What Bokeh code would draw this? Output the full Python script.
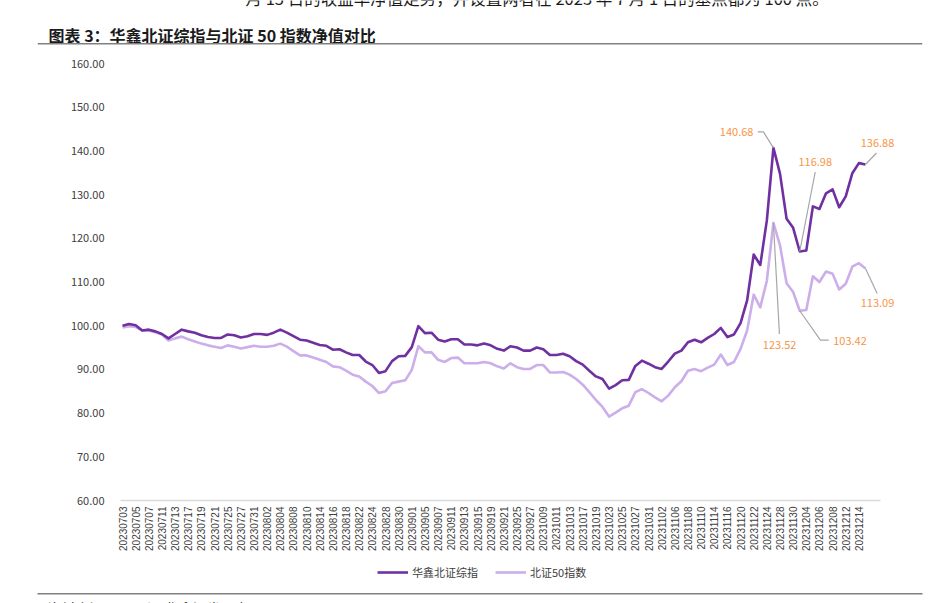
from math import pi
from bokeh.plotting import figure
from bokeh.layouts import column
from bokeh.models import (Range1d, FixedTicker, NumeralTickFormatter, Label,
                          Legend, LegendItem, BoxAnnotation)
from bokeh.core.properties import value
from bokeh.embed import file_html
from bokeh.resources import INLINE

dates = [
    "20230703", "20230704", "20230705", "20230706", "20230707", "20230710", "20230711",
    "20230712", "20230713", "20230714", "20230717", "20230718", "20230719", "20230720",
    "20230721", "20230724", "20230725", "20230726", "20230727", "20230728", "20230731",
    "20230801", "20230802", "20230803", "20230804", "20230807", "20230808", "20230809",
    "20230810", "20230811", "20230814", "20230815", "20230816", "20230817", "20230818",
    "20230821", "20230822", "20230823", "20230824", "20230825", "20230828", "20230829",
    "20230830", "20230831",
    "20230901", "20230904", "20230905", "20230906", "20230907", "20230908", "20230911",
    "20230912", "20230913", "20230914", "20230915", "20230918", "20230919", "20230920",
    "20230921", "20230922", "20230925", "20230926", "20230927", "20230928",
    "20231009", "20231010", "20231011", "20231012", "20231013", "20231016", "20231017",
    "20231018", "20231019", "20231020", "20231023", "20231024", "20231025", "20231026",
    "20231027", "20231030", "20231031",
    "20231101", "20231102", "20231103", "20231106", "20231107", "20231108", "20231109",
    "20231110", "20231113", "20231114", "20231115", "20231116", "20231117", "20231120",
    "20231121", "20231122", "20231123", "20231124", "20231127", "20231128", "20231129",
    "20231130",
    "20231201", "20231204", "20231205", "20231206", "20231207", "20231208", "20231211",
    "20231212", "20231213", "20231214", "20231215",
]

huaxin_bse = [
    100.0, 100.4, 100.1, 98.9, 99.1, 98.7, 98.1, 97.1, 98.1, 99.1,
    98.7, 98.4, 97.8, 97.4, 97.2, 97.2, 98.0, 97.8, 97.3, 97.6,
    98.1, 98.1, 97.9, 98.4, 99.1, 98.4, 97.6, 96.8, 96.6, 96.1,
    95.6, 95.4, 94.5, 94.6, 93.9, 93.3, 93.3, 91.8, 91.0, 89.2,
    89.6, 91.9, 93.0, 93.1, 95.1, 99.9, 98.3, 98.4, 96.8, 96.4,
    96.9, 96.9, 95.7, 95.7, 95.5, 95.9, 95.5, 94.7, 94.3, 95.3,
    95.0, 94.3, 94.3, 95.0, 94.6, 93.3, 93.3, 93.6, 93.0, 91.9,
    91.1, 89.7, 88.4, 87.8, 85.6, 86.4, 87.5, 87.6, 90.8, 92.0,
    91.3, 90.5, 90.1, 91.8, 93.6, 94.3, 96.2, 96.8, 96.2, 97.2,
    98.1, 99.5, 97.4, 98.0, 100.6, 105.8, 116.3, 113.9, 124.1, 140.68,
    134.8, 124.5, 122.4, 116.98, 117.2, 127.3, 126.7, 130.3, 131.2, 127.1,
    129.6, 134.9, 137.2, 136.88,
]

bse50 = [
    99.6, 99.9, 99.7, 98.9, 98.9, 98.5, 98.0, 96.6, 97.1, 97.5,
    96.9, 96.4, 95.9, 95.5, 95.2, 94.9, 95.5, 95.2, 94.8, 95.1,
    95.4, 95.2, 95.2, 95.4, 95.9, 95.2, 94.2, 93.2, 93.2, 92.7,
    92.2, 91.7, 90.7, 90.5, 89.7, 88.8, 88.4, 87.2, 86.2, 84.6,
    85.0, 86.9, 87.2, 87.5, 89.9, 95.3, 93.9, 93.9, 92.2, 91.7,
    92.6, 92.7, 91.4, 91.4, 91.4, 91.7, 91.4, 90.7, 90.2, 91.4,
    90.5, 90.1, 90.1, 91.0, 91.0, 89.3, 89.3, 89.4, 88.8, 87.8,
    86.5, 84.8, 83.0, 81.4, 79.2, 80.1, 81.1, 81.7, 84.8, 85.5,
    84.6, 83.6, 82.7, 84.0, 85.9, 87.3, 89.7, 90.1, 89.6, 90.4,
    91.1, 93.4, 91.0, 91.7, 94.7, 98.9, 107.1, 104.2, 110.3, 123.52,
    118.4, 109.7, 107.7, 103.42, 103.6, 111.3, 110.0, 112.4, 111.9, 108.3,
    109.6, 113.5, 114.3, 113.09,
]

series_names = ["华鑫北证综指", "北证50指数"]
y_ticks = [60, 70, 80, 90, 100, 110, 120, 130, 140, 150, 160]
title_text = "图表 3：华鑫北证综指与北证 50 指数净值对比"
source_text = "资料来源：Wind，华鑫证券研究"
lead_text = "月 15 日的收益率净值走势，并设置两者在 2023 年 7 月 1 日的基点都为 100 点。"

assert len(dates) == len(huaxin_bse) == len(bse50) == 114

n = len(dates)
xs = list(range(n))

W = 933
H_MAIN = 555                    # image rows 0 .. 555
H_FOOT = 48                     # image rows 555 .. 603
FL, FR = 37, 922                # frame edges (image px)
FT, FB = 0, 500                 # frame top/bottom (image px)
PX = 6.575                      # px per trading day
PY = 4.37                       # px per index point
X_FIRST = 122                   # image x of the first trading day
X0 = -(X_FIRST - FL) / PX
X1 = X0 + (FR - FL) / PX
Y0 = 60
Y1 = Y0 + (FB - FT) / PY

DARK = "#7030A0"
LIGHT = "#CBAEEA"
ORANGE = "#F79646"
LEADER = "#A6A6A6"
RULE = "#808080"
CJK = "Noto Sans CJK SC"

p = figure(width=W, height=H_MAIN, output_backend="svg", toolbar_location=None,
           x_range=Range1d(X0, X1), y_range=Range1d(Y0, Y1),
           min_border_left=FL, min_border_right=W - FR,
           min_border_top=FT, min_border_bottom=H_MAIN - FB,
           frame_align=False)
p.outline_line_color = None
p.xgrid.grid_line_color = None
p.ygrid.grid_line_color = None


def fx(img_x):
    return img_x - FL


def fy(img_y):
    return FB - img_y


ticks = list(range(0, n, 2))
xa = p.xaxis[0]
xa.ticker = FixedTicker(ticks=ticks)
xa.bounds = (X0 + (120 - FL) / PX, X0 + (880 - FL) / PX)
xa.major_label_overrides = {i: dates[i] for i in ticks}
xa.major_label_orientation = pi / 2
xa.major_tick_line_color = None
xa.minor_tick_line_color = None
xa.major_tick_out = 0
xa.minor_tick_out = 0
xa.axis_line_color = "#D9D9D9"
xa.axis_line_width = 1.5
xa.major_label_text_font = "Liberation Sans"
xa.major_label_text_font_size = "10px"
xa.major_label_text_color = "#404040"
xa.major_label_standoff = 6

ya = p.yaxis[0]
ya.ticker = FixedTicker(ticks=y_ticks)
ya.formatter = NumeralTickFormatter(format="0.00")
ya.axis_line_color = None
ya.major_tick_line_color = None
ya.minor_tick_line_color = None
ya.major_tick_out = 0
ya.minor_tick_out = 0
ya.major_label_text_font = CJK
ya.major_label_text_font_size = "11px"
ya.major_label_text_color = "#404040"
ya.major_label_standoff = -67

r2 = p.line(xs, bse50, line_color=LIGHT, line_width=2.6, line_join="round")
r1 = p.line(xs, huaxin_bse, line_color=DARK, line_width=2.6, line_join="round")

# value call-outs: (series, index, leader path in px offsets, text offset, align)
callouts = [
    (huaxin_bse, 99, [(0, 0), (-10, -16), (-15.5, -16)], (-20, -16), "right"),
    (huaxin_bse, 103, [(0, 0), (15.5, -79.5)], (15.5, -89.5), "center"),
    (huaxin_bse, 113, [(0, 0), (11, -11.5)], (12, -21.5), "center"),
    (bse50, 99, [(0, 0), (6, 111)], (6.2, 122), "center"),
    (bse50, 103, [(0, 0), (20.7, 29.3), (29, 29.3)], (33.5, 30), "left"),
    (bse50, 113, [(0, 0), (11.7, 25)], (12, 34.3), "center"),
]
for ser, i, path, (tx, ty), align in callouts:
    v = ser[i]
    lx = [i + dx / PX for dx, dy in path]
    ly = [v - dy / PY for dx, dy in path]
    p.line(lx, ly, line_color=LEADER, line_width=1.2)
    p.add_layout(Label(x=i, y=v, x_offset=tx, y_offset=-ty, text=f"{v:.2f}",
                       text_align=align, text_baseline="middle",
                       text_font=CJK, text_font_size="11px", text_color=ORANGE))

# tail of the preceding paragraph (cut by the top edge, as in the page)
p.add_layout(Label(x=fx(245), y=fy(-2.5), x_units="screen", y_units="screen",
                   text=lead_text, text_font=CJK, text_font_size="16.5px",
                   text_color="#1a1a1a", text_baseline="alphabetic",
                   text_align="left"))

# title and its rule, inside the top band of the frame
p.add_layout(Label(x=fx(48), y=fy(34), x_units="screen", y_units="screen",
                   text=title_text, text_font=CJK, text_font_size="16px",
                   text_font_style="bold", text_color="#1a1a1a",
                   text_baseline="middle", text_align="left"))
p.add_layout(BoxAnnotation(left=fx(FL), right=fx(FR), bottom=fy(44), top=fy(42.5),
                           left_units="screen", right_units="screen",
                           bottom_units="screen", top_units="screen",
                           fill_color=RULE, fill_alpha=1, line_color=None))

# ---- footer: legend, rule and source
ftr = figure(width=W, height=H_FOOT, output_backend="svg", toolbar_location=None,
             x_range=Range1d(0, W), y_range=Range1d(0, H_FOOT),
             x_axis_location=None, y_axis_location=None, min_border=0,
             frame_align=False)
ftr.outline_line_color = None
ftr.xgrid.grid_line_color = None
ftr.ygrid.grid_line_color = None
FOOT_TOP = H_MAIN


def gy(img_y):
    return H_FOOT - (img_y - FOOT_TOP)


# legend keys styled like the two series (kept out of view)
k1 = ftr.line([-20, -10], [-20, -20], line_color=DARK, line_width=2.6)
k2 = ftr.line([-20, -10], [-20, -20], line_color=LIGHT, line_width=2.6)
legend = Legend(items=[LegendItem(label=series_names[0], renderers=[k1]),
                       LegendItem(label=series_names[1], renderers=[k2])],
                orientation="horizontal", location=(377, gy(580)))
legend.border_line_color = None
legend.background_fill_alpha = 0
legend.padding = 0
legend.margin = 0
legend.spacing = 17
legend.glyph_width = 31
legend.glyph_height = 14
legend.label_height = 14
legend.label_standoff = 4
legend.label_text_font = CJK
legend.label_text_font_size = "11px"
legend.label_text_color = "#404040"
ftr.add_layout(legend)

ftr.segment(x0=[FL], y0=[gy(593.3)], x1=[FR], y1=[gy(593.3)],
            line_color=RULE, line_width=1.5)
ftr.text(x=[47], y=[gy(597)], text=[source_text], text_font=value(CJK),
         text_font_size="14px", text_color="#1a1a1a",
         text_baseline="top", text_align="left")

layout = column(p, ftr, spacing=0)
open("out.html", "w").write(file_html(layout, INLINE))
